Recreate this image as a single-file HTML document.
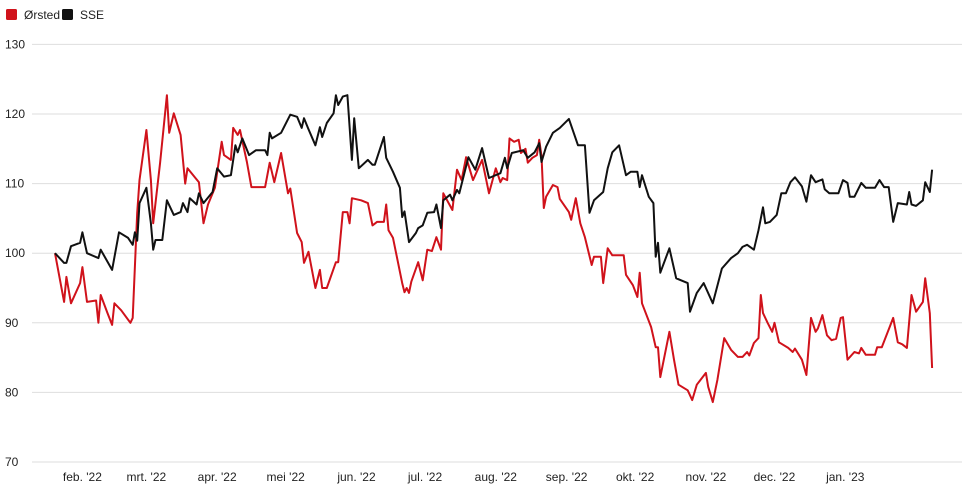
<!DOCTYPE html>
<html><head><meta charset="utf-8">
<style>
html,body{margin:0;padding:0;background:#fff;width:962px;height:503px;overflow:hidden}
svg{display:block}
text{font-family:"Liberation Sans Narrow","Liberation Sans",sans-serif;font-stretch:condensed;fill:#222}
</style></head>
<body>
<svg id="chart" width="962" height="503" viewBox="0 0 962 503">
  <g>
    <g>
      <rect x="6" y="9" width="11" height="11" rx="1.5" fill="#d0121b"/>
      <text x="24" y="19" font-size="12">Ørsted</text>
    </g>
    <g>
      <rect x="62" y="9" width="11" height="11" rx="1.5" fill="#111"/>
      <text x="80" y="19" font-size="12">SSE</text>
    </g>
  </g>
  <g id="grid"></g>
  <g id="yaxis"></g>
  <g id="xaxis"></g>
  <g id="series"></g>
</svg>
<script>
// Days since 2022-01-20
const yTicks = [70, 80, 90, 100, 110, 120, 130];
const monthLabels = ["feb. '22","mrt. '22","apr. '22","mei '22","jun. '22","jul. '22","aug. '22","sep. '22","okt. '22","nov. '22","dec. '22","jan. '23"];
const monthDays = [12, 40, 71, 101, 132, 162, 193, 224, 254, 285, 315, 346];

const orstedDays = [0,4,5,7,11,12,14,18,19,20,23,25,26,29,33,34,36,37,40,42,43,46,49,50,52,55,57,58,63,65,67,70,73,74,77,78,80,81,84,86,92,94,96,99,102,103,106,108,109,111,114,116,117,119,123,124,126,128,129,130,134,137,139,141,144,145,146,148,152,153,154,155,156,159,161,163,165,167,169,170,174,176,178,180,183,187,190,193,195,196,198,199,201,203,204,206,207,209,211,212,213,214,215,218,220,221,225,226,228,230,232,235,236,239,240,242,244,249,250,253,255,256,257,261,263,264,265,269,271,273,277,279,281,285,286,288,290,293,296,299,301,303,304,306,308,309,310,312,314,315,317,318,321,323,324,327,329,331,333,334,336,338,340,342,344,345,347,350,352,353,355,359,360,362,367,369,371,373,375,377,380,381,383,384];
const orstedValues = [100,93,96.6,92.8,95.7,98,93,93.2,90,94,91.4,89.7,92.8,91.8,90,90.7,105.8,110.5,117.7,110.5,104.3,113,122.7,117.3,120.1,117,110,112.2,110.2,104.3,107,109.4,116,114.1,113.4,118,117,117.7,113.1,109.5,109.5,113,110.2,114.4,108.6,109.3,102.9,101.6,98.6,100.2,95,97.6,95,95,98.7,98.7,105.9,105.9,104.3,107.9,107.6,107.2,104,104.5,104.5,107,103.3,102.2,95.7,94.4,95,94.3,95.9,98.7,96.1,100.5,100.3,102.3,100.5,108.6,106.2,112,110.5,113.8,110.5,113.4,108.6,112.2,110.2,110.8,110.5,116.5,116,116.3,114.4,115,113,113.7,114.1,116.3,114,106.5,108.1,109.8,109.5,107.8,105.9,104.8,107.9,104.3,102.3,98.3,99.5,99.5,95.7,100.7,99.7,99.7,96.9,95.4,93.7,97.2,92.8,89.4,86.5,86.5,82.2,88.7,84.7,81.1,80.3,78.9,81.1,82.8,80.8,78.6,81.8,87.8,86.1,85.1,85.1,85.8,85.3,87.1,87.8,94,91.4,90,88.7,90,87.2,87,86.4,85.8,86.3,84.7,82.5,90.7,88.7,89.2,91.1,88.2,87.5,87.7,90.7,90.8,84.7,85.8,85.6,86.4,85.4,85.4,86.5,86.5,90.7,87.2,86.9,86.4,94,91.6,93,96.4,91.4,83.5];

const sseDays = [0,4,5,7,11,12,14,19,20,25,28,32,34,35,36,37,40,42,43,44,47,49,52,55,56,58,59,62,63,65,69,71,74,77,79,80,82,85,88,92,93,94,95,99,103,106,108,109,111,114,116,117,119,122,123,124,126,128,130,131,133,137,139,140,144,145,148,151,152,153,155,158,159,161,163,166,167,169,170,173,174,176,177,181,184,187,190,195,197,198,200,205,207,210,212,213,215,218,221,225,229,232,234,236,240,242,244,247,250,252,255,256,257,260,262,263,264,265,269,272,277,278,281,284,288,292,296,299,301,303,306,308,310,311,313,316,318,320,322,324,327,329,331,333,336,337,339,343,345,347,348,350,353,355,359,361,363,365,367,369,373,374,375,377,380,381,383,384];
const sseValues = [100,98.6,98.6,101,101.5,103,100,99.3,100.5,97.6,103,102.2,101.2,103,101.8,107.2,109.4,104.3,100.5,101.9,101.9,107.6,105.5,105.9,107.2,105.9,107.9,107,108.6,107.2,108.8,112.2,111,111.2,115.5,114.5,116.5,114.1,114.8,114.8,114.1,117.3,116.5,117.3,119.9,119.6,118,119.4,117.8,115.5,118.1,116.7,118.7,120.1,122.7,121.3,122.5,122.7,113.4,119.4,112.2,113.4,112.7,112.7,116.7,113.7,111.7,109.4,105.2,106,101.6,102.9,103.6,104,105.8,105.9,107,103.6,107.6,108.4,107.6,109.1,108.6,113.8,112,115.1,110.8,111.5,113.7,112.2,114.4,114.8,113.7,114.5,115.8,113.1,115.3,117.3,118,119.3,115.5,115.5,105.8,107.6,108.8,112.2,114.5,115.5,111.2,111.7,111.7,109.5,111.2,108.1,107.2,99.5,101.5,97.2,100.7,96.4,95.7,91.6,94.3,95.7,92.8,97.8,99.3,100,100.9,101.2,100.5,103.3,106.6,104.3,104.5,105.5,108.6,108.6,110.2,110.9,109.6,107.4,111.2,110.2,110.6,109.2,108.6,108.6,110.5,110.1,108.1,108.1,110.1,109.4,109.4,110.5,109.5,109.5,104.5,107.2,107,108.8,107,106.8,107.6,110.2,108.8,112];

const NS = "http://www.w3.org/2000/svg";
const xScale = d => 55 + d * 2.284;
const yScale = v => 462 - (v - 70) * 6.96;

const grid = document.getElementById('grid');
const yaxis = document.getElementById('yaxis');
yTicks.forEach(t => {
  const l = document.createElementNS(NS, 'line');
  
  
  l.setAttribute('x1', 32); l.setAttribute('x2', 962);
  l.setAttribute('y1', yScale(t)); l.setAttribute('y2', yScale(t));
  l.setAttribute('stroke', '#dedede'); l.setAttribute('stroke-width', '1');
  grid.appendChild(l);
  const tx = document.createElementNS(NS, 'text');
  
  
  tx.setAttribute('x', 5); tx.setAttribute('y', yScale(t) + 4);
  tx.setAttribute('font-size', '12');
  tx.textContent = t;
  yaxis.appendChild(tx);
});

const xaxis = document.getElementById('xaxis');
monthLabels.forEach((m, i) => {
  const tx = document.createElementNS(NS, 'text');
  
  
  tx.setAttribute('x', xScale(monthDays[i]));
  tx.setAttribute('y', 481);
  tx.setAttribute('text-anchor', 'middle');
  tx.setAttribute('font-size', '12');
  tx.textContent = m;
  xaxis.appendChild(tx);
});

const series = document.getElementById('series');
function drawLine(days, vals, color, name) {
  const p = document.createElementNS(NS, 'path');
  
  
  p.setAttribute('d', days.map((d, i) => (i ? 'L' : 'M') + xScale(d).toFixed(1) + ',' + yScale(vals[i]).toFixed(1)).join(''));
  p.setAttribute('fill', 'none');
  p.setAttribute('stroke', color);
  p.setAttribute('stroke-width', '2');
  p.setAttribute('stroke-linejoin', 'round');
  series.appendChild(p);
}
drawLine(orstedDays, orstedValues, '#d0121b', 'orsted-line');
drawLine(sseDays, sseValues, '#111111', 'sse-line');
</script>
</body></html>
